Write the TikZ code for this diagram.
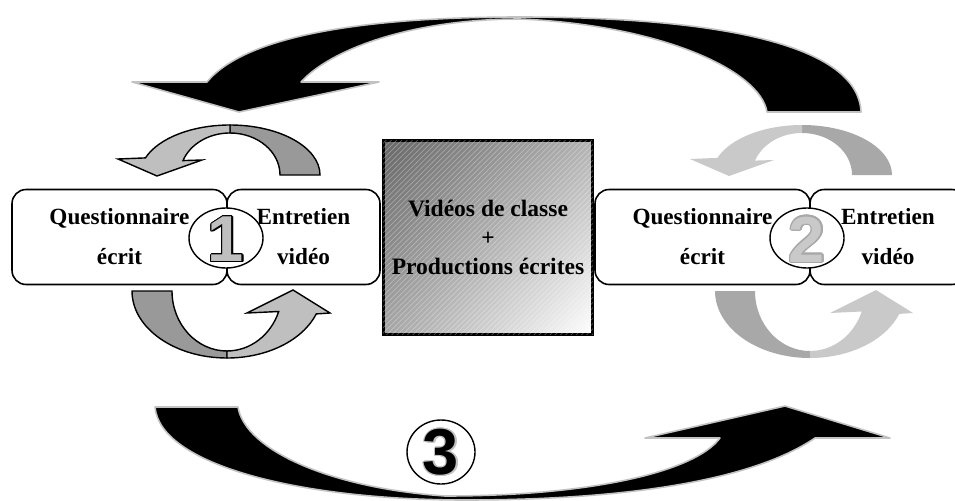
\documentclass[tikz,border=0pt]{standalone}
\usepackage{fontspec}
\setmainfont{Liberation Serif}
\setsansfont{Liberation Sans}
\usepackage[copies]{contour}
\usetikzlibrary{patterns,shadings}

\definecolor{ringlight}{gray}{0.75}
\definecolor{ringdark}{gray}{0.6}
\definecolor{fadelight}{gray}{0.79}
\definecolor{fadedark}{gray}{0.66}
\definecolor{rim}{gray}{0.76}
\contourlength{0.7pt}

\begin{document}
\begin{tikzpicture}[x=0.02cm, y=-0.02cm,
    bigarrow/.style={fill=black, draw=rim, line width=0.9pt, line join=round},
    pane/.style={draw=black, line width=0.9pt, rounded corners=8pt, fill=white,
      font=\bfseries\fontsize{13.2}{22.7}\selectfont, align=center},
    slab/.style={draw=black, line width=1.7pt, upper left=black!60, upper right=black!30,
      lower left=black!35, lower right=white,
      postaction={pattern=north east lines, pattern color=white, opacity=0.3},
      font=\bfseries\fontsize{13.4}{16.4}\selectfont, align=center},
    badge/.style={draw=black, line width=0.8pt, fill=white},
    digit/.style={font=\sffamily\bfseries\fontsize{37}{37}\selectfont, inner sep=0pt}]

\useasboundingbox (0,0) rectangle (955,500);
\clip (0,0) rectangle (955,500);

% Big black arrows
\draw[bigarrow] (861,112) -- (767,112)
  .. controls (760,70) and (660,25) .. (520,19)
  .. controls (410,19) and (330,50) .. (301,82)
  -- (379,82) -- (239,112) -- (132,82) -- (207,82)
  .. controls (250,30) and (390,17) .. (520,17)
  .. controls (700,17) and (858,40) .. (861,112) -- cycle;
\draw[bigarrow] (155,407) -- (238,407)
  .. controls (245,450) and (330,488) .. (445,496)
  .. controls (590,496) and (695,472) .. (720,438)
  -- (645,438) -- (785,406) -- (890,438) -- (815,438)
  .. controls (750,482) and (620,500) .. (465,500)
  .. controls (300,500) and (160,465) .. (155,407) -- cycle;

% Small cycle arrows
\foreach \ds/\db/\dk/\lt/\edge in {0/0/ringdark/ringlight/black, 572/583/fadedark/fadelight/none}{
  \begin{scope}[shift={(\ds,0)}, line width=0.8pt]
    \path[fill=\dk, draw=\edge] (320,175) arc[start angle=0, end angle=-90, x radius=90, y radius=50]
      -- (230,133) arc[start angle=-90, end angle=0, x radius=50, y radius=42] -- cycle;
    \path[fill=\lt, draw=\edge] (230,125) arc[start angle=-90, end angle=-160, x radius=90, y radius=50]
      -- (118,159) -- (157,176) -- (202,160) -- (183,160.6)
      arc[start angle=-160, end angle=-90, x radius=50, y radius=42] -- cycle;
  \end{scope}
  \begin{scope}[shift={(\db,0)}, line width=0.8pt]
    \path[fill=\dk, draw=\edge] (132,291) arc[start angle=180, end angle=90, x radius=95, y radius=67]
      -- (227,351) arc[start angle=90, end angle=180, x radius=55, y radius=60] -- cycle;
    \path[fill=\lt, draw=\edge] (227,358) arc[start angle=90, end angle=20, x radius=95, y radius=67]
      -- (330,313) -- (293,290) -- (247,313) -- (278.7,311.5)
      arc[start angle=20, end angle=90, x radius=55, y radius=60] -- cycle;
  \end{scope}
}

% Boxes
\node[pane, minimum width=4.3cm, minimum height=1.9cm] (quest1) at (119.5,237) {Questionnaire\\écrit};
\node[pane, minimum width=3.06cm, minimum height=1.9cm] (video1) at (303.5,237) {Entretien\\vidéo};
\node[pane, minimum width=4.3cm, minimum height=1.9cm] (quest2) at (702.5,237) {Questionnaire\\écrit};
\node[pane, minimum width=3.12cm, minimum height=1.9cm] (video2) at (888,237) {Entretien\\vidéo};
\node[slab, minimum width=4.2cm, minimum height=3.9cm] (classe) at (488,237.5)
  {Vidéos de classe\\+\\Productions écrites};

% Numbers
\draw[badge] (226,238) ellipse [x radius=37, y radius=30];
\draw[badge] (807,238) ellipse [x radius=37, y radius=30];
\draw[badge] (441,452) ellipse [x radius=34, y radius=32];
\node[digit, text=ringlight] (one) at (226,240) {\contour{black}{1}};
\node[digit, text=fadelight] (two) at (807,240) {\contour{fadedark}{2}};
\node[digit, text=black] (three) at (441,453) {\contour{rim}{3}};
\end{tikzpicture}
\end{document}
